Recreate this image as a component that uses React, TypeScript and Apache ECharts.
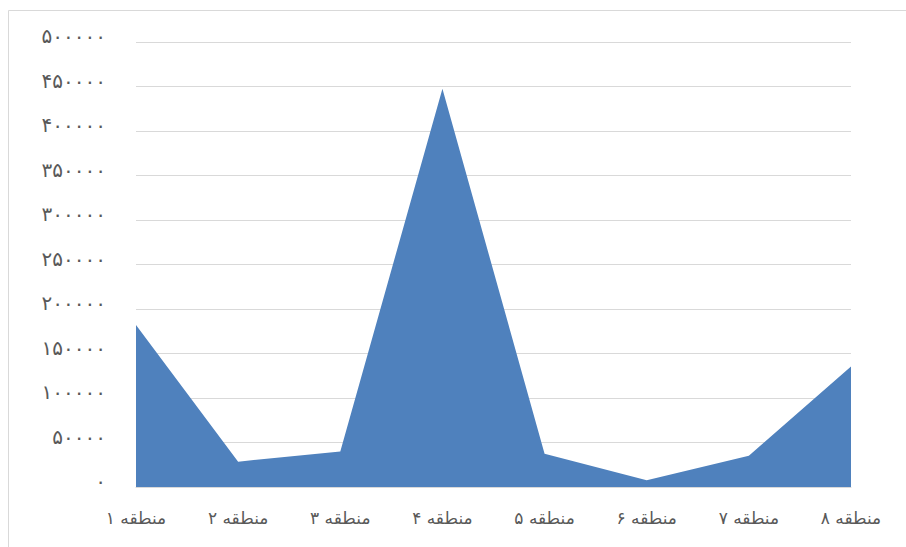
import React, { useEffect, useRef } from "react";
import * as echarts from "echarts";

const categories = ["منطقه ۱", "منطقه ۲", "منطقه ۳", "منطقه ۴", "منطقه ۵", "منطقه ۶", "منطقه ۷", "منطقه ۸"];
const values = [182000, 28500, 40000, 447500, 37500, 7500, 35000, 135500];
const yTicks = { min: 0, max: 500000, interval: 50000 };

const toPersian = (n: number) =>
  String(n).replace(/[0-9]/g, (d) => "۰۱۲۳۴۵۶۷۸۹"[Number(d)]);

export default function App() {
  const ref = useRef<HTMLDivElement>(null);
  useEffect(() => {
    if (!ref.current) return;
    const chart = echarts.init(ref.current, null, { renderer: "svg" });
    chart.setOption({
      animation: false,
      backgroundColor: "#ffffff",
      graphic: [
        {
          type: "rect",
          shape: { x: 8.5, y: 10.5, width: 1000, height: 1000 },
          style: { fill: "none", stroke: "#d9d9d9", lineWidth: 1 },
          silent: true,
        },
      ],
      grid: { left: 136, right: 55, top: 42, bottom: 60 },
      xAxis: {
        type: "category",
        data: categories,
        boundaryGap: false,
        axisLine: { show: true, lineStyle: { color: "#d9d9d9", width: 1 } },
        axisTick: { show: false },
        axisLabel: {
          color: "#595959",
          fontSize: 17,
          fontFamily: "DejaVu Sans",
          margin: 22,
        },
      },
      yAxis: {
        type: "value",
        min: yTicks.min,
        max: yTicks.max,
        interval: yTicks.interval,
        axisLine: { show: false },
        axisTick: { show: false },
        splitLine: { lineStyle: { color: "#d9d9d9", width: 1 } },
        axisLabel: {
          color: "#595959",
          fontSize: 20,
          fontFamily: "DejaVu Sans",
          margin: 30,
          formatter: (v: number) => "{a|" + toPersian(v) + "}",
          rich: {
            a: {
              color: "#595959",
              fontSize: 20,
              fontFamily: "DejaVu Sans",
              padding: [0, 0, 12, 0],
            },
          },
        },
      },
      series: [
        {
          type: "line",
          data: values,
          symbol: "none",
          lineStyle: { width: 0 },
          areaStyle: { color: "#4f81bd", opacity: 1 },
          itemStyle: { color: "#4f81bd" },
        },
      ],
    });
    return () => chart.dispose();
  }, []);
  return <div ref={ref} style={{ width: 906, height: 547, position: "absolute", left: 0, top: 0 }} />;
}
